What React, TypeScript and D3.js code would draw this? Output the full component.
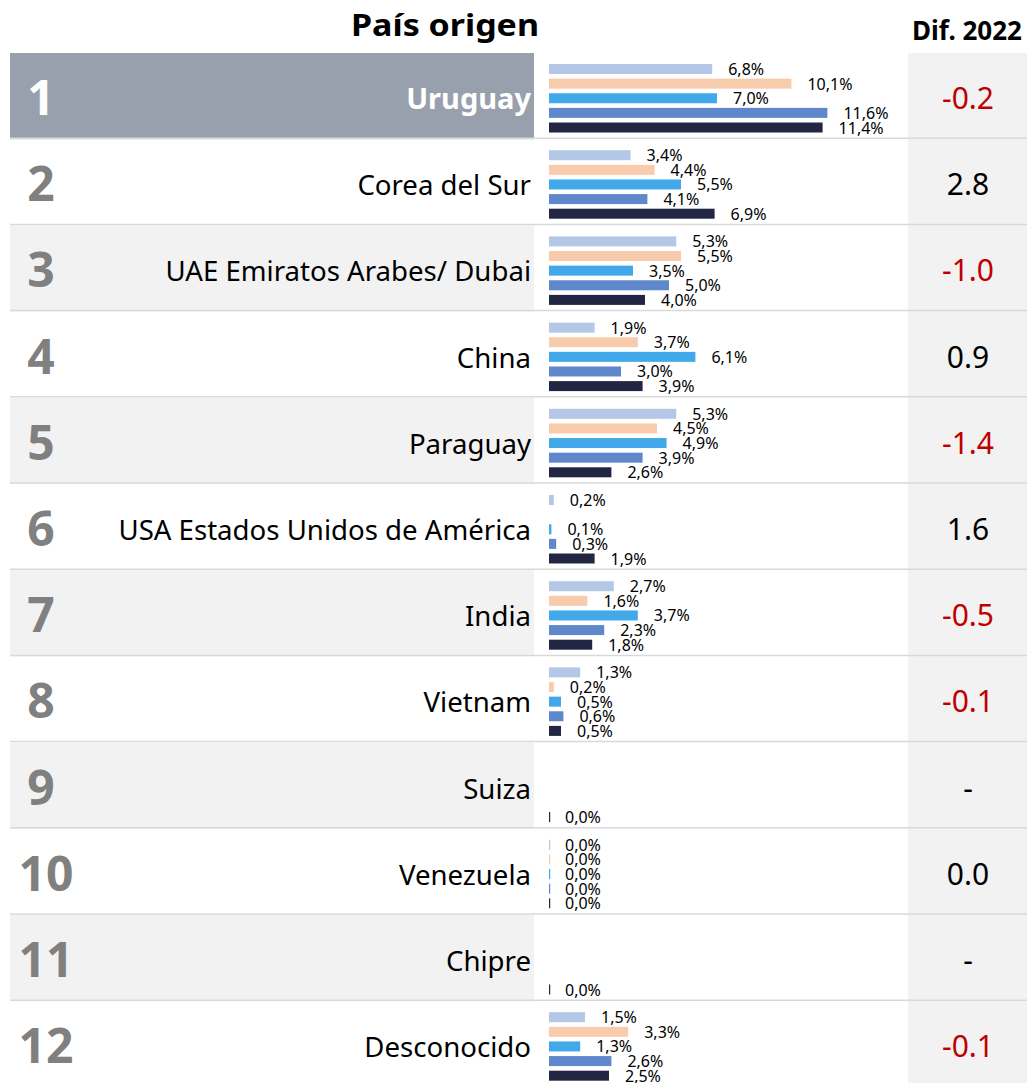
import React from 'react';
import * as d3 from 'd3';

const ranks = [1, 2, 3, 4, 5, 6, 7, 8, 9, 10, 11, 12];
const countries = [
  'Uruguay',
  'Corea del Sur',
  'UAE Emiratos Arabes/ Dubai',
  'China',
  'Paraguay',
  'USA Estados Unidos de América',
  'India',
  'Vietnam',
  'Suiza',
  'Venezuela',
  'Chipre',
  'Desconocido',
];
const serie1 = [6.8, 3.4, 5.3, 1.9, 5.3, 0.2, 2.7, 1.3, null, 0.0, null, 1.5];
const serie2 = [10.1, 4.4, 5.5, 3.7, 4.5, null, 1.6, 0.2, null, 0.0, null, 3.3];
const serie3 = [7.0, 5.5, 3.5, 6.1, 4.9, 0.1, 3.7, 0.5, null, 0.0, null, 1.3];
const serie4 = [11.6, 4.1, 5.0, 3.0, 3.9, 0.3, 2.3, 0.6, null, 0.0, null, 2.6];
const serie5 = [11.4, 6.9, 4.0, 3.9, 2.6, 1.9, 1.8, 0.5, 0.0, 0.0, 0.0, 2.5];
const dif2022 = ['-0.2', '2.8', '-1.0', '0.9', '-1.4', '1.6', '-0.5', '-0.1', '-', '0.0', '-', '-0.1'];
const seriesColors = ['#b4c7e7', '#f8cbad', '#41a9e9', '#5f87cc', '#222642'];

const W = 1027;
const H = 1083;
const FONT = '"Segoe UI", "Noto Sans", "Open Sans", sans-serif';

export default function App() {
  const series = [serie1, serie2, serie3, serie4, serie5];
  const rowScale = d3.scaleBand<number>().domain(ranks).range([53, 53 + 12 * 86.2]);
  const x = d3.scaleLinear().domain([0, 12]).range([549, 549 + 288]);
  const barPos = d3.scalePoint<number>().domain([0, 1, 2, 3, 4]).range([16, 74.5]);
  const barH = 10;
  const fmt = (v: number) => d3.format('.1f')(v).replace('.', ',') + '%';

  return (
    <svg
      width={W}
      height={H}
      style={{ position: 'absolute', left: 0, top: 0, background: '#fff' }}
      fontFamily={FONT}
    >
      {/* right column background */}
      <rect x={908} y={53} width={W - 908} height={H - 53} fill="#f2f2f2" />
      {/* row backgrounds */}
      {ranks.map((r, i) => {
        const y0 = rowScale(r)!;
        if (i === 0) {
          return <rect key={r} x={10} y={y0} width={524} height={rowScale.bandwidth()} fill="#99a0ad" />;
        }
        if (i % 2 === 0) {
          return <rect key={r} x={10} y={y0} width={524} height={rowScale.bandwidth()} fill="#f2f2f2" />;
        }
        return null;
      })}
      {/* separators */}
      {ranks.slice(0, 11).map((r) => {
        const yb = rowScale(r)! + rowScale.bandwidth() - 1;
        return <line key={r} x1={10} x2={W} y1={yb} y2={yb} stroke="#d9d9d9" strokeWidth={1.5} />;
      })}
      {/* headers */}
      <text x={539} y={36} textAnchor="end" fontSize={31} fontWeight="bold" fill="#000" textLength={188} lengthAdjust="spacingAndGlyphs">
        País origen
      </text>
      <text x={967} y={40} textAnchor="middle" fontSize={26} fontWeight="bold" fill="#000">
        Dif. 2022
      </text>
      {ranks.map((r, i) => {
        const y0 = rowScale(r)!;
        const first = i === 0;
        const d = dif2022[i];
        const neg = d.startsWith('-') && d.length > 1;
        const numX = String(r).length > 1 ? 46 : 41;
        return (
          <g key={r}>
            <text x={numX} y={y0 + 62} textAnchor="middle" fontSize={48} fontWeight="bold" fill={first ? '#fff' : '#808080'}>
              {r}
            </text>
            <text
              x={531}
              y={y0 + 56}
              textAnchor="end"
              fontSize={first ? 29 : 27.6}
              fontWeight={first ? 'bold' : 'normal'}
              fill={first ? '#fff' : '#000'}
            >
              {countries[i]}
            </text>
            <text x={968} y={y0 + 56} textAnchor="middle" fontSize={30} fill={neg ? '#c00000' : '#000'}>
              {d}
            </text>
            {series.map((s, k) => {
              const v = s[i];
              if (v === null || v === undefined) return null;
              const cy = y0 + barPos(k)!;
              const w = Math.max(x(v) - x(0), 1.2);
              return (
                <g key={k}>
                  <rect x={x(0)} y={cy - barH / 2} width={w} height={barH} fill={seriesColors[k]} />
                  <text x={x(v) + 16} y={cy + 6} fontSize={16} fill="#000">
                    {fmt(v)}
                  </text>
                </g>
              );
            })}
          </g>
        );
      })}
    </svg>
  );
}
